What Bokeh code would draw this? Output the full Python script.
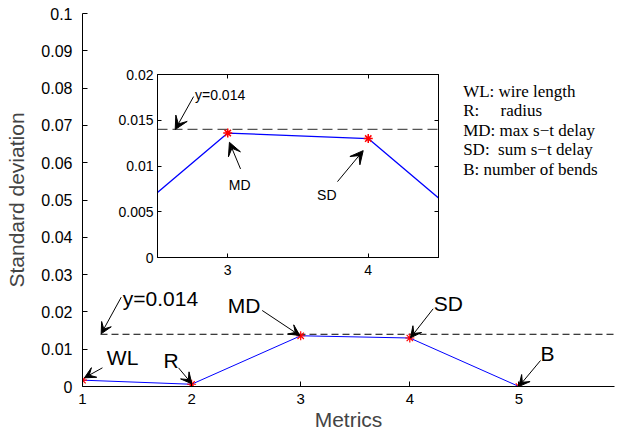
from bokeh.plotting import figure
from bokeh.models import Range1d, FixedTicker, LinearAxis, Arrow, VeeHead, Label
from bokeh.embed import file_html
from bokeh.resources import INLINE

# ---------------- data ----------------
metrics = [1, 2, 3, 4, 5]
metric_names = ["WL", "R", "MD", "SD", "B"]
std_dev = [0.0017, 0.0006, 0.0136, 0.0130, 0.0]
threshold = 0.014

main_xticks = [1, 2, 3, 4, 5]
main_yticks = [0, 0.01, 0.02, 0.03, 0.04, 0.05, 0.06, 0.07, 0.08, 0.09, 0.1]
main_ytick_labels = ["0", "0.01", "0.02", "0.03", "0.04", "0.05", "0.06", "0.07", "0.08", "0.09", "0.1"]

inset_xticks = [3, 4]
inset_yticks = [0, 0.005, 0.01, 0.015, 0.02]
inset_ytick_labels = ["0", "0.005", "0.01", "0.015", "0.02"]
inset_metrics = [3, 4]
inset_values = [0.0136, 0.0130]

NB = "\u00a0"
legend_lines = ["WL: wire length", "R:" + NB * 5 + "radius", "MD: max s\u2212t delay",
                "SD:" + NB * 2 + "sum s\u2212t delay", "B: number of bends"]

SANS = "Liberation Sans"
SERIF = "Liberation Serif"


def style_axis(ax, font_size, standoff, tick_in):
    ax.axis_line_color = "black"
    ax.axis_line_width = 1
    ax.major_tick_in = tick_in
    ax.major_tick_out = 0
    ax.major_tick_line_color = "black"
    ax.minor_tick_line_color = None
    ax.major_label_text_font = SANS
    ax.major_label_text_font_size = font_size
    ax.major_label_text_color = "black"
    ax.major_label_standoff = standoff


# ---------------- main figure ----------------
p = figure(frame_width=532, frame_height=373,
           x_range=Range1d(1, 5.876), y_range=Range1d(0, 0.1),
           output_backend="svg", toolbar_location=None,
           min_border_left=82, min_border_right=6, min_border_top=13, min_border_bottom=49)
p.outline_line_color = None
p.grid.visible = False
p.background_fill_color = "white"
p.border_fill_color = "white"

style_axis(p.xaxis[0], "15px", 7, 5)
p.xaxis[0].ticker = FixedTicker(ticks=main_xticks)
p.xaxis[0].axis_label = "Metrics"
p.xaxis[0].axis_label_text_font = SANS
p.xaxis[0].axis_label_text_font_size = "21px"
p.xaxis[0].axis_label_text_font_style = "normal"
p.xaxis[0].axis_label_standoff = 1

style_axis(p.yaxis[0], "16px", 10, 5)
p.yaxis[0].ticker = FixedTicker(ticks=main_yticks)
p.yaxis[0].major_label_overrides = dict(zip(main_yticks, main_ytick_labels))
p.yaxis[0].axis_label = "Standard deviation"
p.yaxis[0].axis_label_text_font = SANS
p.yaxis[0].axis_label_text_font_size = "21px"
p.yaxis[0].axis_label_text_font_style = "normal"
p.yaxis[0].axis_label_standoff = 10

# threshold dashed line
p.line([1.165, 5.876], [threshold, threshold], line_color="black", line_width=1, line_dash="7 4")
# data line + markers
p.line(metrics, std_dev, line_color="#0000ff", line_width=1)
p.scatter(metrics, std_dev, marker="asterisk", size=9, line_color="red", line_width=1.2)

# annotations (text, arrow tail -> tip) in data units
main_notes = [
    ("y=0.014", 1.369, 0.02351, (1.355, 0.02394), (1.171, 0.01413)),
    ("WL", 1.223, 0.00769, (1.183, 0.00501), (1.018, 0.00233)),
    ("R", 1.742, 0.00697, (1.880, 0.00501), (2.002, 0.00072)),
    ("MD", 2.332, 0.02172, (2.647, 0.02038), (2.992, 0.01367)),
    ("SD", 4.220, 0.02233, (4.214, 0.02083), (4.006, 0.01306)),
    ("B", 5.198, 0.00877, (5.198, 0.00697), (4.999, 0.0)),
]
for txt, tx, ty, (x0, y0), (x1, y1) in main_notes:
    p.add_layout(Label(x=tx, y=ty, text=txt, text_font=SANS, text_font_size="21px",
                       text_baseline="alphabetic", text_align="left", text_color="black"))
    p.add_layout(Arrow(x_start=x0, y_start=y0, x_end=x1, y_end=y1, line_color="black", line_width=1,
                       end=VeeHead(size=11, fill_color="black", line_color="black", line_width=1)))

# legend-like text block
for i, line in enumerate(legend_lines):
    p.add_layout(Label(x=4.489, y=0.07917, y_offset=-19.6 * i, text=line, text_font=SERIF,
                       text_font_size="17px", text_baseline="middle", text_align="left",
                       text_color="black"))

# ---------------- inset figure ----------------
inset = figure(frame_width=281, frame_height=183,
               x_range=Range1d(2.5, 4.5), y_range=Range1d(0, 0.02),
               output_backend="svg", toolbar_location=None,
               min_border_left=50, min_border_top=20, min_border_right=20, min_border_bottom=30)
inset.border_fill_alpha = 0
inset.background_fill_color = "white"
inset.outline_line_color = "black"
inset.outline_line_width = 1
inset.grid.visible = False

style_axis(inset.xaxis[0], "14px", 7, 4)
inset.xaxis[0].ticker = FixedTicker(ticks=inset_xticks)
style_axis(inset.yaxis[0], "14px", 4, 4)
inset.yaxis[0].ticker = FixedTicker(ticks=inset_yticks)
inset.yaxis[0].major_label_overrides = dict(zip(inset_yticks, inset_ytick_labels))

top_ax = LinearAxis(ticker=FixedTicker(ticks=inset_xticks))
style_axis(top_ax, "1px", 0, 4)
top_ax.major_label_overrides = {t: "" for t in inset_xticks}
inset.add_layout(top_ax, "above")
right_ax = LinearAxis(ticker=FixedTicker(ticks=inset_yticks))
style_axis(right_ax, "1px", 0, 4)
right_ax.major_label_overrides = {t: "" for t in inset_yticks}
inset.add_layout(right_ax, "right")

inset.line([2.5, 4.5], [threshold, threshold], line_color="#555555", line_width=1.2, line_dash="10 5")
inset.line(metrics, std_dev, line_color="#0000ff", line_width=1.3)
inset.scatter(inset_metrics, inset_values, marker="asterisk", size=9, line_color="red", line_width=1.5)

inset_notes = [
    ("y=0.014", 2.767, 0.01778, (2.757, 0.01759), (2.626, 0.01398)),
    ("MD", 3.007, 0.00796, (3.091, 0.00968), (3.012, 0.01259)),
    ("SD", 3.636, 0.00683, (3.781, 0.00829), (3.964, 0.01168)),
]
for txt, tx, ty, (x0, y0), (x1, y1) in inset_notes:
    inset.add_layout(Label(x=tx, y=ty, text=txt, text_font=SANS, text_font_size="14px",
                           text_baseline="alphabetic", text_align="left", text_color="black"))
    inset.add_layout(Arrow(x_start=x0, y_start=y0, x_end=x1, y_end=y1, line_color="black", line_width=1,
                           end=VeeHead(size=13, fill_color="black", line_color="black", line_width=1)))

# the inset is laid over the main plot (page coordinates)
inset.styles = {"position": "absolute", "left": "107px", "top": "54px"}

open("out.html", "w").write(file_html([p, inset], INLINE))
